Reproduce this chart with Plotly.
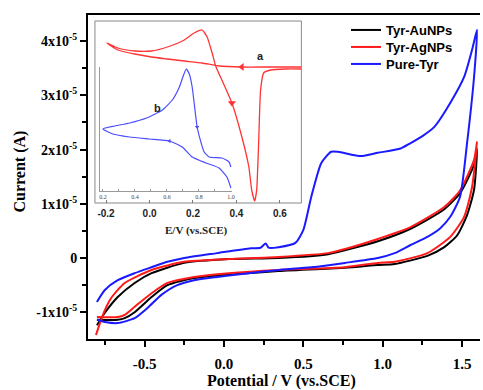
import numpy as np
import plotly.graph_objects as go

# ---------------- main cyclic voltammograms (current in units of 1e-5 A) ----------------
# Tyr-AuNPs
au_fwd_v = [-0.80, -0.75, -0.669, -0.5625, -0.456, -0.25, 0.031, 0.344, 0.656, 0.969, 1.175, 1.3875, 1.4875, 1.575, 1.594]
au_fwd_i = [-1.24, -1.01, -0.72, -0.46, -0.28, -0.09, -0.02, 0.00, 0.07, 0.31, 0.54, 0.90, 1.20, 1.72, 2.01]
au_rev_v = [1.594, 1.575, 1.531, 1.469, 1.3875, 1.281, 1.075, 0.969, 0.7625, 0.344, -0.1875, -0.356, -0.456, -0.5625, -0.625, -0.669, -0.80]
au_rev_i = [2.01, 1.26, 0.79, 0.42, 0.20, 0.04, -0.11, -0.13, -0.18, -0.24, -0.37, -0.50, -0.72, -1.00, -1.11, -1.14, -1.14]

# Tyr-AgNPs
ag_fwd_v = [-0.806, -0.781, -0.75, -0.706, -0.625, -0.456, -0.25, 0.031, 0.344, 0.656, 0.78, 0.969, 1.175, 1.3875, 1.4875, 1.575, 1.594]
ag_fwd_i = [-1.42, -1.20, -0.96, -0.72, -0.46, -0.22, -0.07, -0.02, 0.02, 0.09, 0.18, 0.35, 0.57, 0.94, 1.25, 1.81, 2.14]
ag_rev_v = [1.594, 1.5625, 1.5125, 1.425, 1.281, 1.075, 0.969, 0.7625, 0.344, 0.031, -0.1875, -0.356, -0.456, -0.5625, -0.625, -0.669, -0.80]
ag_rev_i = [2.14, 1.31, 0.76, 0.39, 0.09, -0.07, -0.09, -0.17, -0.22, -0.28, -0.35, -0.46, -0.65, -0.90, -1.05, -1.09, -1.09]

# Pure-Tyr
tyr_fwd_v = [-0.80, -0.75, -0.669, -0.5625, -0.456, -0.356, -0.25, -0.044, 0.169, 0.23, 0.263, 0.281, 0.344, 0.45, 0.50, 0.55,
             0.6125, 0.675, 0.719, 0.8625, 0.969, 1.1125, 1.175, 1.25, 1.325, 1.425, 1.5125, 1.5625, 1.594]
tyr_fwd_i = [-0.81, -0.59, -0.41, -0.28, -0.17, -0.07, 0.00, 0.09, 0.18, 0.19, 0.27, 0.19, 0.20, 0.28, 0.52, 1.13,
             1.75, 1.96, 1.96, 1.88, 1.94, 2.02, 2.12, 2.25, 2.42, 2.86, 3.34, 3.84, 4.21]
tyr_rev_v = [1.594, 1.575, 1.531, 1.487, 1.425, 1.3625, 1.281, 1.175, 1.075, 0.969, 0.7625, 0.55, 0.344, 0.156, -0.044,
             -0.1875, -0.294, -0.394, -0.481, -0.5625, -0.669, -0.75, -0.80]
tyr_rev_i = [4.21, 3.34, 2.12, 1.13, 0.76, 0.55, 0.39, 0.24, 0.09, 0.00, -0.09, -0.17, -0.22, -0.28, -0.35,
             -0.41, -0.50, -0.68, -0.92, -1.11, -1.20, -1.18, -1.14]

# ---------------- inset a (red) ----------------
a_rev_v = [0.699, 0.548, 0.425, 0.320, 0.242, 0.160, 0.082, 0.009, -0.068, -0.146, -0.196]
a_rev_i = [0.0, 0.0, 0.0, 0.1, 0.4, 0.6, 0.8, 1.0, 1.3, 1.7, 2.4]
a_fwd_v = [-0.196, -0.146, -0.068, 0.009, 0.082, 0.160, 0.205, 0.242, 0.265, 0.288, 0.306, 0.333, 0.379, 0.425,
           0.457, 0.470, 0.484, 0.493, 0.502, 0.511, 0.525, 0.557, 0.626, 0.699]
a_fwd_i = [2.4, 1.9, 1.6, 1.6, 2.0, 2.7, 3.4, 3.7, 3.0, 1.4, 0.0, -1.3, -3.6, -7.0,
           -10.0, -12.3, -13.4, -12.3, -7.6, -2.3, -0.6, -0.3, -0.2, -0.2]

# ---------------- inset b (blue) ----------------
b_low_v = [1.0, 0.975, 0.926, 0.845, 0.758, 0.696, 0.616, 0.491, 0.367, 0.262, 0.2]
b_low_i = [0.3, 1.4, 2.3, 2.8, 3.4, 4.4, 5.0, 5.2, 5.4, 5.7, 6.2]
b_up_v = [0.2, 0.274, 0.367, 0.473, 0.572, 0.634, 0.678, 0.702, 0.721, 0.740, 0.758, 0.789, 0.814, 0.833, 0.864, 0.944, 0.988, 1.0]
b_up_i = [6.2, 6.5, 6.8, 7.3, 8.1, 9.1, 10.4, 11.5, 12.2, 11.7, 10.4, 6.4, 4.8, 3.9, 3.4, 3.3, 2.9, 2.4]

series_names = ["Tyr-AuNPs", "Tyr-AgNPs", "Pure-Tyr"]
series_colors = ["#000000", "#ff1a1a", "#1a1aff"]

x_ticks = [-0.5, 0.0, 0.5, 1.0, 1.5]
x_ticktext = ["-0.5", "0.0", "0.5", "1.0", "1.5"]
y_ticks = [-1e-5, 0, 1e-5, 2e-5, 3e-5, 4e-5]
y_ticktext = ["-1x10<sup>-5</sup>", "0", "1x10<sup>-5</sup>",
              "2x10<sup>-5</sup>", "3x10<sup>-5</sup>", "4x10<sup>-5</sup>"]
inset_a_ticks = [-0.2, 0.0, 0.2, 0.4, 0.6]
inset_a_ticktext = ["-0.2", "0.0", "0.2", "0.4", "0.6"]
inset_b_ticks = [0.2, 0.4, 0.6, 0.8, 1.0]
inset_b_ticktext = ["0.2", "0.4", "0.6", "0.8", "1.0"]

SERIF = "Liberation Serif"
SANS = "Liberation Sans"


def loop(v1, i1, v2, i2, scale=1.0):
    v = list(v1) + list(v2)[1:]
    i = (np.array(list(i1) + list(i2)[1:]) * scale).tolist()
    return v, i


fig = go.Figure()

legend_ids = ["legend", "legend2", "legend3"]
curves = [(au_fwd_v, au_fwd_i, au_rev_v, au_rev_i),
          (ag_fwd_v, ag_fwd_i, ag_rev_v, ag_rev_i),
          (tyr_fwd_v, tyr_fwd_i, tyr_rev_v, tyr_rev_i)]
for name, color, lg, (fv, fi, rv, ri) in zip(series_names, series_colors, legend_ids, curves):
    v, i = loop(fv, fi, rv, ri, 1e-5)
    fig.add_trace(go.Scatter(x=v, y=i, mode="lines", name=name, legend=lg,
                             line=dict(color=color, width=2, shape="spline", smoothing=0.6)))

# inset a
va, ia = loop(a_rev_v, a_rev_i, a_fwd_v, a_fwd_i)
fig.add_trace(go.Scatter(x=va, y=ia, mode="lines", xaxis="x2", yaxis="y2", showlegend=False,
                         line=dict(color="#ff3333", width=1.3, shape="spline", smoothing=0.5)))
fig.add_trace(go.Scatter(x=[0.425, 0.379], y=[0.0, -3.6], mode="markers", xaxis="x2", yaxis="y2",
                         showlegend=False,
                         marker=dict(symbol=["triangle-left", "triangle-down"], size=7, color="#ff3333")))

# inset b
vb, ib = loop(b_low_v, b_low_i, b_up_v, b_up_i)
fig.add_trace(go.Scatter(x=vb, y=ib, mode="lines", xaxis="x3", yaxis="y3", showlegend=False,
                         line=dict(color="#4d4dff", width=1.2, shape="spline", smoothing=0.5)))
fig.add_trace(go.Scatter(x=[0.616, 0.789], y=[5.0, 6.4], mode="markers", xaxis="x3", yaxis="y3",
                         showlegend=False,
                         marker=dict(symbol=["triangle-left", "triangle-down"], size=4, color="#4d4dff")))

# plot area: x 88..483 px, y 15..339 px
W, H = 483, 390
L, R, T, B = 88, 0, 15, 51
pw, ph = W - L - R, H - T - B


def fx(px):
    return (px - L) / pw


def fy(py):
    return (H - B - py) / ph


def legend_box(center_py):
    return dict(x=fx(348), y=fy(center_py), xanchor="left", yanchor="middle",
                font=dict(family=SANS, size=13, color="black", weight="bold"),
                bgcolor="rgba(0,0,0,0)", itemwidth=30)


fig.update_layout(
    width=W, height=H,
    margin=dict(l=L, r=R, t=T, b=B, pad=0),
    paper_bgcolor="white", plot_bgcolor="rgba(0,0,0,0)",
    showlegend=True,
    legend=legend_box(30),
    legend2=legend_box(47),
    legend3=legend_box(64),
    xaxis=dict(range=[-0.85625, 1.6125], domain=[0, 1], tickmode="array", tickvals=x_ticks,
               ticktext=x_ticktext,
               ticks="outside", ticklen=6, tickwidth=2, tickcolor="black",
               showline=True, linewidth=2, linecolor="black", mirror=True,
               showgrid=False, zeroline=False, ticklabelstandoff=4,
               tickfont=dict(family=SERIF, size=15, color="black", weight="bold"),
               minor=dict(tickmode="array", tickvals=[-0.75, -0.25, 0.25, 0.75, 1.25],
                          ticks="outside", ticklen=4, tickwidth=2, tickcolor="black")),
    yaxis=dict(range=[-1.494e-5, 4.483e-5], domain=[0, 1], tickmode="array", tickvals=y_ticks,
               ticktext=y_ticktext,
               ticks="outside", ticklen=6, tickwidth=2, tickcolor="black",
               showline=True, linewidth=2, linecolor="black", mirror=False,
               showgrid=False, zeroline=False,
               tickfont=dict(family=SERIF, size=14, color="black", weight="bold"),
               minor=dict(tickmode="array", tickvals=[-0.5e-5, 0.5e-5, 1.5e-5, 2.5e-5, 3.5e-5],
                          ticks="outside", ticklen=4, tickwidth=2, tickcolor="black")),
    # inset a
    xaxis2=dict(domain=[fx(95), fx(303)], anchor="y2", range=[-0.2511, 0.6986],
                tickmode="array", tickvals=inset_a_ticks, ticktext=inset_a_ticktext,
                ticks="inside", ticklen=3, tickcolor="#777", showline=False, showgrid=False, zeroline=False,
                ticklabelstandoff=3,
                tickfont=dict(family=SANS, size=10, color="#222", weight="bold")),
    yaxis2=dict(domain=[fy(203), fy(21)], anchor="x2", range=[-13.6, 4.6],
                showline=False, showgrid=False, zeroline=False, showticklabels=False, ticks=""),
    # inset b
    xaxis3=dict(domain=[fx(100), fx(233)], anchor="y3", range=[0.1814, 1.0062],
                tickmode="array", tickvals=inset_b_ticks, ticktext=inset_b_ticktext,
                ticks="inside", ticklen=2, tickcolor="#999", showline=True, linewidth=1, linecolor="#999",
                showgrid=False, zeroline=False,
                tickfont=dict(family=SERIF, size=6, color="#444"),
                minor=dict(tickmode="array", tickvals=[0.3, 0.5, 0.7, 0.9], ticks="inside",
                           ticklen=2, tickcolor="#999")),
    yaxis3=dict(domain=[fy(191), fy(67)], anchor="x3", range=[0, 12.4],
                showline=True, linewidth=1, linecolor="#999", showgrid=False, zeroline=False,
                showticklabels=False, ticks=""),
    shapes=[dict(type="rect", xref="paper", yref="paper", x0=fx(95), x1=fx(303), y0=fy(203), y1=fy(21),
                 line=dict(color="#888", width=1), fillcolor="rgba(0,0,0,0)", layer="below")],
    annotations=[
        dict(text="Current (A)", x=fx(19), y=fy(172), xref="paper", yref="paper", showarrow=False,
             textangle=-90, xanchor="center", yanchor="middle",
             font=dict(family=SERIF, size=16, color="black", weight="bold")),
        dict(text="Potential / V (vs.SCE)", x=fx(283), y=fy(381), xref="paper", yref="paper",
             showarrow=False, xanchor="center", yanchor="middle",
             font=dict(family=SERIF, size=16, color="black", weight="bold")),
        dict(text="E/V (vs.SCE)", x=fx(197), y=fy(230), xref="paper", yref="paper", showarrow=False,
             xanchor="center", yanchor="middle",
             font=dict(family=SERIF, size=11, color="#222", weight="bold")),
        dict(text="a", x=fx(262), y=fy(56), xref="paper", yref="paper", showarrow=False,
             xanchor="center", yanchor="middle",
             font=dict(family=SANS, size=11, color="#222", weight="bold")),
        dict(text="b", x=fx(158), y=fy(108), xref="paper", yref="paper", showarrow=False,
             xanchor="center", yanchor="middle",
             font=dict(family=SANS, size=11, color="#222", weight="bold")),
    ],
)

fig.write_html("out.html")
